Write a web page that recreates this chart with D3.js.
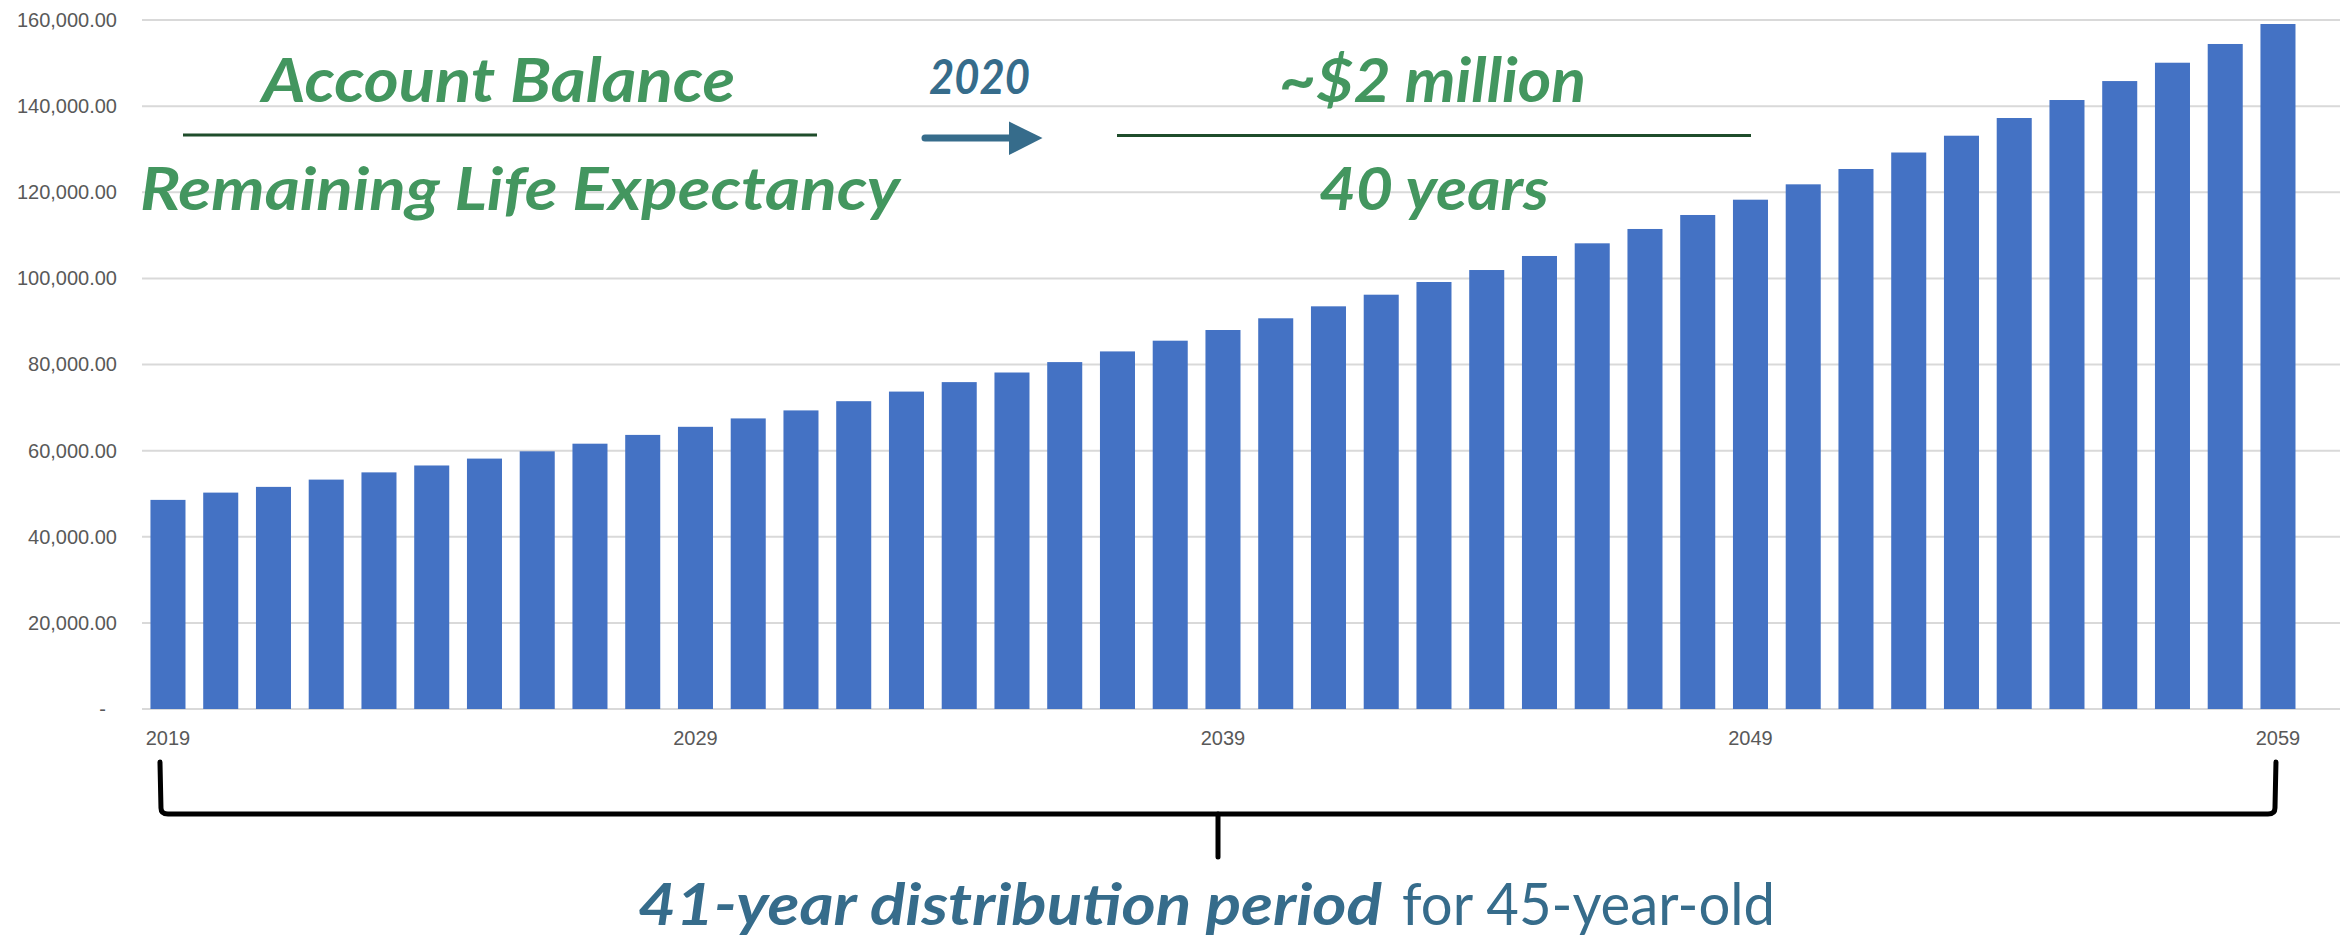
<!DOCTYPE html>
<html>
<head>
<meta charset="utf-8">
<script src="https://cdn.jsdelivr.net/npm/d3@7"></script>
<style>
  html, body { margin: 0; padding: 0; background: #ffffff; }
  svg { display: block; }
</style>
</head>
<body>
<svg id="chart" width="2340" height="940"></svg>
<script>
// Projected account balance by year (distribution period)
const years = [2019, 2020, 2021, 2022, 2023, 2024, 2025, 2026, 2027, 2028,
               2029, 2030, 2031, 2032, 2033, 2034, 2035, 2036, 2037, 2038,
               2039, 2040, 2041, 2042, 2043, 2044, 2045, 2046, 2047, 2048,
               2049, 2050, 2051, 2052, 2053, 2054, 2055, 2056, 2057, 2058,
               2059];
const balances = [48560, 50250, 51580, 53270, 54950, 56550, 58150, 59840, 61610, 63650,
                  65530, 67480, 69340, 71480, 73710, 75910, 78140, 80560, 83040, 85530,
                  88010, 90730, 93510, 96210, 99160, 101940, 105200, 108140, 111470, 114720,
                  118270, 121840, 125400, 129230, 133130, 137240, 141420, 145820, 150080, 154430,
                  159070];
const yTickValues = [0, 20000, 40000, 60000, 80000, 100000, 120000, 140000, 160000];
const xTickYears = [2019, 2029, 2039, 2049, 2059];

// Annotation text
const ratioTop = "Account Balance";
const ratioBottom = "Remaining Life Expectancy";
const arrowLabel = "2020";
const resultTop = "~$2 million";
const resultBottom = "40 years";
const periodBold = "41-year distribution period";
const periodRest = "for 45-year-old";

const GREEN = "#43965f";
const DARK_GREEN = "#1f4d2b";
const BLUE = "#366c8b";
const BAR = "#4472c4";
const GRID = "#d9d9d9";
const AXIS_TEXT = "#595959";

const svg = d3.select("#chart");

const plot = { left: 141.6, right: 2304.35, top: 20, bottom: 709, gridRight: 2340 };

const x = d3.scaleBand()
  .domain(years)
  .range([plot.left, plot.right])
  .paddingInner(0.336)
  .paddingOuter(0.168);

const y = d3.scaleLinear()
  .domain([0, 160000])
  .range([plot.bottom, plot.top]);

// Horizontal gridlines
svg.append("g")
  .selectAll("line")
  .data(yTickValues)
  .join("line")
  .attr("x1", 142)
  .attr("x2", plot.gridRight)
  .attr("y1", d => y(d))
  .attr("y2", d => y(d))
  .attr("stroke", GRID)
  .attr("stroke-width", 2);

// Y axis labels (accounting style, zero shown as a dash)
const fmt = d3.format(",.2f");
const yAxis = svg.append("g")
  .attr("transform", `translate(${142},0)`)
  .call(d3.axisLeft(y)
    .tickValues(yTickValues)
    .tickSize(0)
    .tickPadding(25)
    .tickFormat(d => d === 0 ? "-" : fmt(d)));
yAxis.select(".domain").remove();
yAxis.selectAll("text")
  .attr("fill", AXIS_TEXT)
  .style("font-family", "'Liberation Sans', Arial, sans-serif")
  .style("font-size", "20px");
yAxis.selectAll(".tick")
  .filter(d => d === 0)
  .select("text")
  .attr("x", -36);

// Bars
svg.append("g")
  .selectAll("rect")
  .data(years.map((yr, i) => ({ year: yr, value: balances[i] })))
  .join("rect")
  .attr("x", d => x(d.year))
  .attr("y", d => y(d.value))
  .attr("width", x.bandwidth())
  .attr("height", d => y(0) - y(d.value))
  .attr("fill", BAR);

// X axis labels every ten years
const xAxis = svg.append("g")
  .attr("transform", `translate(0,${plot.bottom})`)
  .call(d3.axisBottom(x)
    .tickValues(xTickYears)
    .tickSize(0)
    .tickPadding(22));
xAxis.select(".domain").remove();
xAxis.selectAll("text")
  .attr("fill", AXIS_TEXT)
  .style("font-family", "'Liberation Sans', Arial, sans-serif")
  .style("font-size", "20px");

// Ratio annotation: balance over life expectancy
const titleFont = "Lato, 'Open Sans', sans-serif";
function label(text, xStart, baseline, size, width, color) {
  return svg.append("text")
    .attr("x", xStart)
    .attr("y", baseline)
    .attr("textLength", width)
    .attr("lengthAdjust", "spacingAndGlyphs")
    .attr("fill", color)
    .style("font-family", titleFont)
    .style("font-style", "italic")
    .style("font-weight", 700)
    .style("font-size", size + "px")
    .text(text);
}

label(ratioTop, 262, 101.7, 61, 473, GREEN);
label(ratioBottom, 140, 210, 60, 760, GREEN);
svg.append("line")
  .attr("x1", 183).attr("x2", 817)
  .attr("y1", 135).attr("y2", 135)
  .attr("stroke", DARK_GREEN)
  .attr("stroke-width", 2.8);

// Arrow with year
label(arrowLabel, 929, 94, 47, 101, BLUE);
svg.append("line")
  .attr("x1", 925).attr("x2", 1012)
  .attr("y1", 138).attr("y2", 138)
  .attr("stroke", BLUE)
  .attr("stroke-width", 7)
  .attr("stroke-linecap", "round");
svg.append("path")
  .attr("d", "M1009,121.5 L1042.5,138 L1009,155 Z")
  .attr("fill", BLUE);

// Resulting ratio
label(resultTop, 1279, 101.7, 61, 307, GREEN);
label(resultBottom, 1319, 210, 60, 230, GREEN);
svg.append("line")
  .attr("x1", 1117).attr("x2", 1751)
  .attr("y1", 135.5).attr("y2", 135.5)
  .attr("stroke", DARK_GREEN)
  .attr("stroke-width", 2.8);

// Bracket spanning the first to last year
const bx0 = x(years[0]) + x.bandwidth() / 2 - 8;
const bx1 = x(years[years.length - 1]) + x.bandwidth() / 2 - 2;
const bTop = 762, bY = 814, bMid = 1218, bTip = 857;
svg.append("path")
  .attr("d", `M${bx0},${bTop} L${bx0 + 1},${bY - 6} Q${bx0 + 1},${bY} ${bx0 + 8},${bY}
              L${bx1 - 8},${bY} Q${bx1 - 1},${bY} ${bx1 - 1},${bY - 6} L${bx1},${bTop}`)
  .attr("fill", "none")
  .attr("stroke", "#000")
  .attr("stroke-width", 5)
  .attr("stroke-linecap", "round")
  .attr("stroke-linejoin", "round");
svg.append("line")
  .attr("x1", bMid).attr("x2", bMid)
  .attr("y1", bY).attr("y2", bTip)
  .attr("stroke", "#000")
  .attr("stroke-width", 5)
  .attr("stroke-linecap", "round");

// Caption under the bracket
label(periodBold, 638, 925, 58, 744, BLUE);
svg.append("text")
  .attr("x", 1402)
  .attr("y", 925)
  .attr("textLength", 373)
  .attr("lengthAdjust", "spacingAndGlyphs")
  .attr("fill", BLUE)
  .style("font-family", titleFont)
  .style("font-weight", 400)
  .style("font-size", "58px")
  .text(periodRest);
</script>
</body>
</html>
